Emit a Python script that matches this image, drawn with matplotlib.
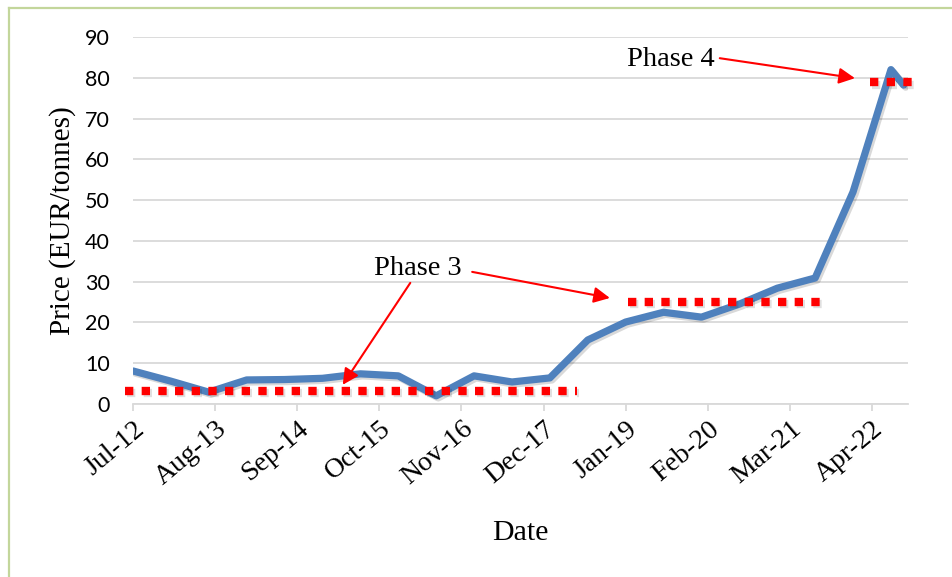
import matplotlib
matplotlib.use("Agg")
import matplotlib.pyplot as plt
import matplotlib.patheffects as pe
import matplotlib.transforms as mtransforms
from matplotlib.lines import Line2D

# Carbon price, sampled every six months (months counted from Jul-12)
months = [0, 6, 12, 18, 24, 30, 36, 42, 48, 54, 60, 66, 72, 78, 84, 90,
          96, 102, 108, 114, 120, 122]
prices = [8.1, 5.6, 2.9, 5.9, 6.0, 6.3, 7.4, 6.9, 2.0, 6.9, 5.4, 6.4, 15.7,
          20.1, 22.5, 21.3, 24.5, 28.4, 30.9, 52.0, 82.0, 78.2]

tick_months = [0, 13, 26, 39, 52, 65, 78, 91, 104, 117]
tick_labels = ["Jul-12", "Aug-13", "Sep-14", "Oct-15", "Nov-16",
               "Dec-17", "Jan-19", "Feb-20", "Mar-21", "Apr-22"]
y_ticks = [0, 10, 20, 30, 40, 50, 60, 70, 80, 90]

# Reference price levels for the trading phases: (level, start month, end month)
phase3_low = (3.3, -1.3, 70.3)
phase3_high = (25.1, 78.4, 109.1)
phase4_level = (79.0, 116.7, 124.1)

SERIF = ["Liberation Serif", "DejaVu Serif"]

fig = plt.figure(figsize=(9.52, 5.77), dpi=100)
ax = fig.add_axes([133 / 952, 1 - 404 / 577, 775 / 952, 367 / 577])

# Price series
ax.plot(months, prices, color="#4f81bd", lw=5.2, solid_joinstyle="round",
        solid_capstyle="round", zorder=3,
        path_effects=[pe.SimpleLineShadow(offset=(1.5, -1.5), shadow_color="black", alpha=0.15),
                      pe.Normal()])

# Phase level markers (dotted red)
for level, x0, x1 in (phase3_low, phase3_high, phase4_level):
    ax.plot([x0, x1], [level, level], color="#ff0000", lw=6.0,
            linestyle=(0, (1.0, 1.0)), dash_capstyle="butt", clip_on=False,
            zorder=4,
            path_effects=[pe.SimpleLineShadow(offset=(1.5, -2.0), shadow_color="black", alpha=0.12),
                          pe.Normal()])

arrow_kw = dict(arrowstyle="-|>", color="#ff0000", lw=1.5, mutation_scale=24,
                shrinkA=0, shrinkB=0)

ax.text(45.1, 33.3, "Phase 3", family=SERIF, fontsize=20.5, ha="center",
        va="center", zorder=5)
ax.annotate("", xy=(33.2, 4.7), xytext=(43.9, 29.7), arrowprops=arrow_kw,
            annotation_clip=False, zorder=5)
ax.annotate("", xy=(75.5, 26.0), xytext=(53.7, 32.4), arrowprops=arrow_kw,
            annotation_clip=False, zorder=5)

ax.text(85.2, 84.6, "Phase 4", family=SERIF, fontsize=20.5, ha="center",
        va="center", zorder=5)
ax.annotate("", xy=(114.3, 79.9), xytext=(92.9, 84.8), arrowprops=arrow_kw,
            annotation_clip=False, zorder=5)

# Axes styling
ax.set_xlim(0, 122.7)
ax.set_ylim(0, 90)
ax.set_yticks(y_ticks)
ax.set_yticklabels([str(v) for v in y_ticks], family=["Lato", "DejaVu Sans"],
                   fontsize=15.5)
ax.set_xticks(tick_months)
ax.set_xticklabels(tick_labels, family=SERIF, fontsize=20, rotation=40,
                   ha="right", va="top", rotation_mode="anchor")
shift = mtransforms.ScaledTranslation(4 / 100, 0, fig.dpi_scale_trans)
for lbl in ax.get_xticklabels():
    lbl.set_transform(lbl.get_transform() + shift)
ax.tick_params(axis="y", length=0, pad=16.5)
ax.tick_params(axis="x", length=5, width=1.3, color="#d9d9d9", pad=4)
ax.grid(axis="y", color="#d9d9d9", lw=1.3)
ax.set_axisbelow(True)
for side in ("left", "right", "top"):
    ax.spines[side].set_visible(False)
ax.spines["bottom"].set_color("#d9d9d9")
ax.spines["bottom"].set_linewidth(1.3)

ax.set_ylabel("Price (EUR/tonnes)", family=SERIF, fontsize=21)
ax.yaxis.set_label_coords(-0.074, 0.5)
ax.set_xlabel("Date", family=SERIF, fontsize=21.5, va="top")
ax.xaxis.set_label_coords(0.5, -0.316)

# Light green frame on the top and left edges
fig.add_artist(Line2D([9 / 952, 9 / 952], [0, 1 - 8 / 577],
                      transform=fig.transFigure, color="#c3d69b", lw=1.6))
fig.add_artist(Line2D([9 / 952, 1], [1 - 8 / 577, 1 - 8 / 577],
                      transform=fig.transFigure, color="#c3d69b", lw=1.6))

fig.savefig("out.png", dpi=100)
